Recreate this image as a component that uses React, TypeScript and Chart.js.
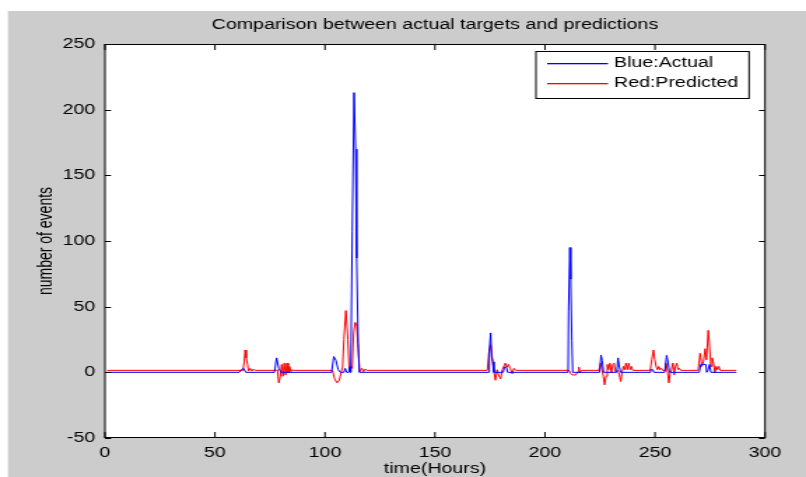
import { useEffect, useRef } from 'react';
import { Chart, registerables } from 'chart.js';

Chart.register(...registerables);

const TITLE = 'Comparison between actual targets and predictions';
const X_LABEL = 'time(Hours)';
const Y_LABEL = 'number of events';
const LEGEND_LABELS = ['Blue:Actual', 'Red:Predicted'];
const X_MIN = 0;
const X_MAX = 300;
const X_STEP = 50;
const Y_MIN = -50;
const Y_MAX = 250;
const Y_STEP = 50;

// Actual series (breakpoints: hour, value)
const actualHours = [
  1, 61, 62, 63, 64, 77, 78, 79, 80, 103, 104, 105, 106, 107, 108.6, 109.2, 109.8, 110.8, 111.3, 111.7,
  112.4, 113.2, 113.9, 114.4, 115.1, 115.6, 174.3, 174.7, 175.3, 175.7, 176.3, 176.8, 181, 181.6, 182.5, 183,
  210.5, 210.7, 211.3, 211.7, 212.2, 212.6, 224.8, 225.5, 226, 226.6, 232.6, 233.2, 233.8, 234.4,
  247.5, 248, 249, 249.5, 254.4, 255.3, 256, 256.6, 270.1, 270.8, 272, 273.1, 273.5, 274.2, 274.8, 275.4, 287,
];
const actualValues = [
  0, 0, 2, 3, 0, 0, 11, 3, 0, 0, 12, 9, 2, 0, 0, 3, 0, 0, 4, 0,
  107, 213, 170, 87, 22, 0, 0, 16, 30, 12, 8, 0, 0, 4, 4, 0,
  0, 46, 95, 71, 24, 0, 0, 13, 9, 0, 0, 11, 4, 0,
  0, 2, 2, 0, 0, 13, 7, 0, 0, 6, 6, 6, 0, 2, 6, 0, 0,
];

// Predicted series (breakpoints: hour, value)
const predictedHours = [
  1, 62.7, 63.3, 63.7, 64.2, 64.8, 65.2, 66, 66.8, 67.5, 68.3,
  77.8, 78.4, 79, 79.7, 80.3, 80.9, 81.5, 82.1, 82.7, 83.3, 83.9, 84.5, 85.1, 85.7,
  103.4, 104.3, 105.4, 106.5, 107.4, 108, 108.6, 109.5, 110.4, 111, 111.7, 112.4, 113, 113.7, 114.4, 115.1, 115.8, 116.8, 117.5, 118.3, 119.1,
  173.8, 174.5, 175.3, 175.9, 176.5, 177.5, 178.2, 178.9, 179.8, 180.6, 181.4, 182, 182.7, 183.4, 184.2, 185.1, 185.9, 186.8,
  210.9, 211.7, 212.4, 213.9, 215, 215.4, 215.9, 216.5,
  224.5, 225.3, 225.9, 226.5, 227.1, 227.7, 228.3, 228.9, 229.5, 230.2, 230.8, 231.4, 232, 233.2, 233.8, 234.4, 235, 235.6, 236.2, 236.8, 237.4, 238.05, 238.7, 239.3, 239.9,
  247.8, 248.5, 249.3, 249.9, 250.5, 251.1, 251.7, 252.3, 252.9, 253.5,
  254.4, 255, 255.6, 256.3, 256.9, 257.5, 258.1, 258.7, 259.3, 259.9, 260.5, 261.1, 261.7,
  269.6, 270.5, 271.3, 272, 272.8, 273.4, 274.2, 274.8, 275.4, 276, 276.6, 277.2, 277.8, 278.4, 279, 279.6, 287,
];
const predictedValues = [
  1.5, 1.5, 8, 17, 11, 6, 1, 3, 1, 2.5, 1.5,
  1.5, 2, -8, -3, 6, -3, 7, -2, 7, -0.5, 4.5, 0.5, 2, 1.5,
  1.5, -4.5, -8, -6, 0.5, 4, 25, 47, 25, 2, 5, 3, 30, 38, 36, 18, 0.5, 3, 0.5, 2.5, 1.5,
  1.5, 15, 21, 13, 3, -6, 2, -2, -5, 2, 5, 7, 4, 6, 3, -1, 3, 1.5,
  1.5, -1, -2, -2, 0.5, 4, -0.5, 1.5,
  1.5, 7, 2, -3, -9.5, -3, 6, 2, 7, -0.5, 6, 7, 0.5, 1.5, -2, -7, -0.5, 4.5, 2, 7, 2, 7, 2, 4.5, 1.5,
  1.5, 9.5, 17, 9.5, 4.5, 2, 4.5, 2, 3, 1.5,
  1.5, 7, 2, -8, -0.5, 2, 7, -2, 4.5, 7, 2, 3, 1.5,
  1.5, 14.5, 4.5, 8, 18, 9.5, 32, 20, 4.5, 11, 7, -0.5, 4.5, 2, 4.5, 1.5, 1.5,
];

const STRETCH = 806 / 576;
const FONT_FAMILY = '"Liberation Sans", Arial, Helvetica, sans-serif';
const TEXT_FONT = { family: FONT_FAMILY, size: 14 };
const SERIES_COLORS = ['#0000ff', '#ff0000'];

const decorPlugin = {
  id: 'matlabDecor',
  beforeDraw(chart: any) {
    const { ctx, width, height, chartArea: a } = chart;
    ctx.save();
    ctx.fillStyle = '#ffffff';
    ctx.fillRect(0, 0, width, height);
    ctx.fillStyle = '#cccccc';
    ctx.fillRect(5.7, 11, width, height);
    ctx.fillStyle = '#ffffff';
    ctx.fillRect(a.left, a.top, a.right - a.left, a.bottom - a.top);
    ctx.restore();
  },
  afterDraw(chart: any) {
    const { ctx, chartArea: a, scales } = chart;
    ctx.save();
    ctx.strokeStyle = '#000000';
    ctx.lineWidth = 1;
    ctx.strokeRect(a.left, a.top + 0.5, a.right - a.left, a.bottom - a.top - 1);
    ctx.beginPath();
    scales.x.ticks.forEach((t: any) => {
      const px = scales.x.getPixelForValue(t.value);
      ctx.moveTo(px, a.bottom);
      ctx.lineTo(px, a.bottom - 6);
      ctx.moveTo(px, a.top);
      ctx.lineTo(px, a.top + 6);
    });
    scales.y.ticks.forEach((t: any) => {
      const py = Math.round(scales.y.getPixelForValue(t.value)) + 0.5;
      ctx.moveTo(a.left, py);
      ctx.lineTo(a.left + 4.3, py);
      ctx.moveTo(a.right, py);
      ctx.lineTo(a.right - 4.3, py);
    });
    ctx.stroke();

    // title
    ctx.fillStyle = '#000000';
    ctx.font = `14px ${FONT_FAMILY}`;
    ctx.textAlign = 'center';
    ctx.textBaseline = 'middle';
    ctx.fillText(TITLE, (a.left + a.right) / 2, 25);

    // legend
    const bx = a.right - 163.7;
    const by = a.top + 7;
    const bw = 152.3;
    const bh = 48;
    ctx.fillStyle = '#ffffff';
    ctx.fillRect(bx, by, bw, bh);
    ctx.strokeStyle = '#000000';
    ctx.lineWidth = 1;
    ctx.strokeRect(bx, by + 0.5, bw, bh - 1);
    LEGEND_LABELS.forEach((label, i) => {
      const y = by + 12 + i * 20;
      ctx.fillStyle = SERIES_COLORS[i];
      ctx.fillRect(bx + 8, y, 43.5, 1.3);
      ctx.fillStyle = '#000000';
      ctx.textAlign = 'left';
      ctx.textBaseline = 'middle';
      ctx.fillText(label, bx + 55.8, y + 0.5);
    });
    ctx.restore();
  },
};

export default function App() {
  const canvasRef = useRef<HTMLCanvasElement | null>(null);

  useEffect(() => {
    const canvas = canvasRef.current;
    if (!canvas) return;
    const actualData = actualHours.map((h, i) => ({ x: h, y: actualValues[i] }));
    const predictedData = predictedHours.map((h, i) => ({ x: h, y: predictedValues[i] }));

    const chart = new Chart(canvas, {
      type: 'line',
      data: {
        datasets: [
          {
            label: LEGEND_LABELS[0],
            data: actualData,
            borderColor: SERIES_COLORS[0],
            backgroundColor: SERIES_COLORS[0],
            borderWidth: 1,
            pointRadius: 0,
            tension: 0,
          },
          {
            label: LEGEND_LABELS[1],
            data: predictedData,
            borderColor: SERIES_COLORS[1],
            backgroundColor: SERIES_COLORS[1],
            borderWidth: 1,
            pointRadius: 0,
            tension: 0,
          },
        ],
      },
      options: {
        responsive: false,
        animation: false,
        devicePixelRatio: 1,
        parsing: false,
        layout: { padding: { top: 44, right: 29.3, left: 0, bottom: 0 } },
        plugins: {
          legend: { display: false },
          title: { display: false },
          tooltip: { enabled: false },
        },
        scales: {
          x: {
            type: 'linear',
            min: X_MIN,
            max: X_MAX,
            ticks: { stepSize: X_STEP, color: '#000000', font: TEXT_FONT, padding: 7, maxRotation: 0 },
            grid: { display: false, drawTicks: false },
            border: { display: false },
            title: { display: true, text: X_LABEL, color: '#000000', font: TEXT_FONT, padding: { top: 0, bottom: -0.5 } },
            afterFit: (s: any) => {
              s.height = 39;
            },
          },
          y: {
            type: 'linear',
            min: Y_MIN,
            max: Y_MAX,
            ticks: { stepSize: Y_STEP, color: '#000000', font: TEXT_FONT, padding: 7 },
            grid: { display: false, drawTicks: false },
            border: { display: false },
            title: { display: true, text: Y_LABEL, color: '#000000', font: TEXT_FONT, padding: { top: 25.2, bottom: 0 } },
            afterFit: (s: any) => {
              s.width = 75;
            },
          },
        },
      },
      plugins: [decorPlugin],
    } as any);

    return () => {
      chart.destroy();
    };
  }, []);

  return (
    <div
      style={{
        position: 'absolute',
        left: 0,
        top: 0,
        width: 576,
        height: 477,
        transform: `scaleX(${STRETCH})`,
        transformOrigin: '0 0',
      }}
    >
      <canvas ref={canvasRef} width={576} height={477} style={{ display: 'block', width: '576px', height: '477px' }} />
    </div>
  );
}
